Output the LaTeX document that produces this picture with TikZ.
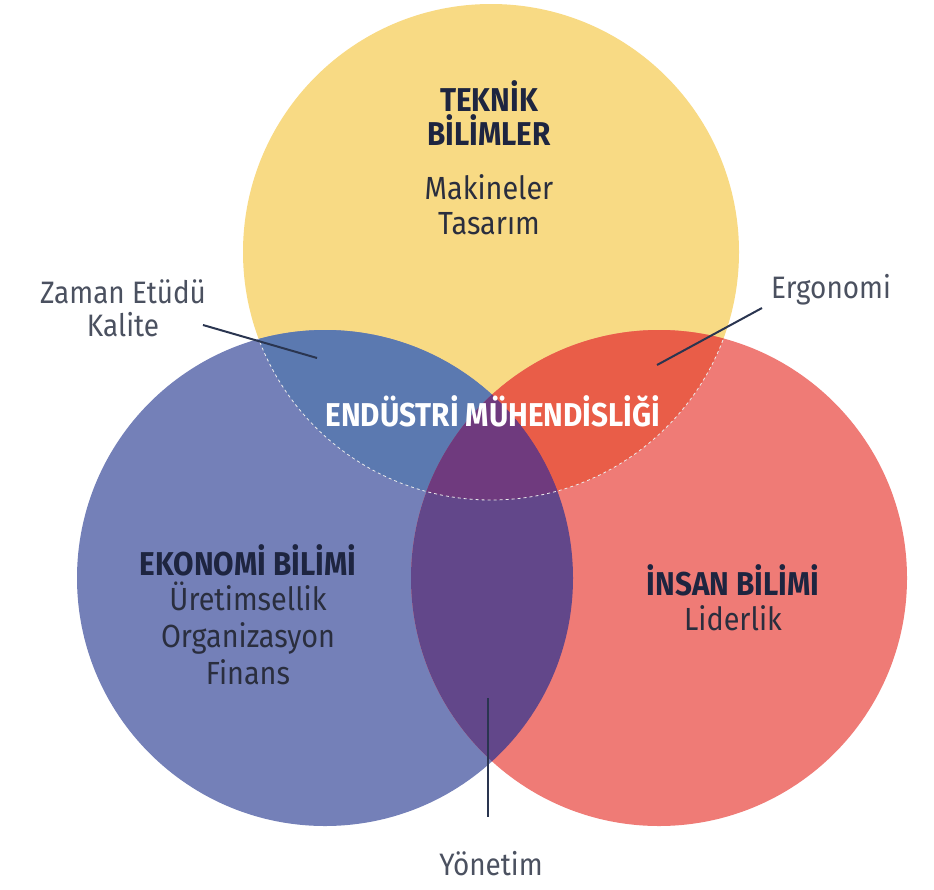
\documentclass[tikz,border=0pt]{standalone}
\usepackage{fontspec}
\setmainfont{Fira Sans}[FakeStretch=0.90]
\definecolor{cyel}{HTML}{F8DA84}
\definecolor{cblu}{HTML}{7480B8}
\definecolor{cred}{HTML}{EF7B76}
\definecolor{cby}{HTML}{5B79B0}
\definecolor{cry}{HTML}{E95D48}
\definecolor{cbr}{HTML}{62478A}
\definecolor{cbry}{HTML}{6F3A7E}
\definecolor{ink}{HTML}{1E2540}
\definecolor{subink}{HTML}{2A2E3E}
\definecolor{gtext}{HTML}{4B5160}
\definecolor{lineink}{HTML}{2A3550}
\tikzset{
  title/.style={font=\fontsize{33}{35}\selectfont\bfseries, text=ink, align=center, inner sep=0pt},
  sub/.style={font=\fontsize{32}{35}\selectfont, text=subink, align=center, inner sep=0pt},
  outer/.style={font=\fontsize{31}{33}\selectfont, text=gtext, align=center, inner sep=0pt},
  leader/.style={draw=lineink, line width=2pt},
}
\begin{document}
\begin{tikzpicture}[x=1pt,y=-1pt]
\useasboundingbox (0,0) rectangle (934,889);
\coordinate (T) at (491,252);
\coordinate (L) at (325,578);
\coordinate (R) at (659,578);
\def\rad{248}
% base circles
\fill[cyel] (T) circle (\rad);
\fill[cblu] (L) circle (\rad);
\fill[cred] (R) circle (\rad);
% overlaps
\begin{scope}
  \clip (T) circle (\rad);
  \fill[cby] (L) circle (\rad);
  \fill[cry] (R) circle (\rad);
\end{scope}
\begin{scope}
  \clip (L) circle (\rad);
  \fill[cbr] (R) circle (\rad);
  \clip (R) circle (\rad);
  \fill[cbry] (T) circle (\rad);
\end{scope}
% white dashed outline of top circle inside others
\begin{scope}
  \clip (L) circle (\rad) (R) circle (\rad);
  \draw[white!85!gray, dashed, dash pattern=on 3pt off 3pt, line width=0.8pt] (T) circle (\rad);
\end{scope}
% texts
\node[title] (tek) at (489,113) {TEKNİK\\[-1pt]BİLİMLER};
\node[sub] (mak) at (489,205) {Makineler\\Tasarım};
\node[title] (eko) at (248,560) {EKONOMİ BİLİMİ};
\node[sub] (ure) at (248,633) {Üretimsellik\\[2pt]Organizasyon\\[2pt]Finans};
\node[title] (ins) at (733,580) {İNSAN BİLİMİ};
\node[sub] (lid) at (733,618) {Liderlik};
\node[title, text=white] (end) at (493,411) {ENDÜSTRİ MÜHENDİSLİĞİ};
\node[outer] (zam) at (123,308) {Zaman Etüdü\\Kalite};
\node[outer] (erg) at (831,290) {Ergonomi};
\node[outer] (yon) at (491,864) {Yönetim};
% leaders
\coordinate (z1) at (203,325);
\coordinate (z2) at (317,358);
\coordinate (e1) at (762,308);
\coordinate (e2) at (657,365);
\coordinate (y1) at (488,698);
\coordinate (y2) at (488,817);
\draw[leader] (z1) -- (z2);
\draw[leader] (e1) -- (e2);
\draw[leader] (y1) -- (y2);
\end{tikzpicture}
\end{document}
